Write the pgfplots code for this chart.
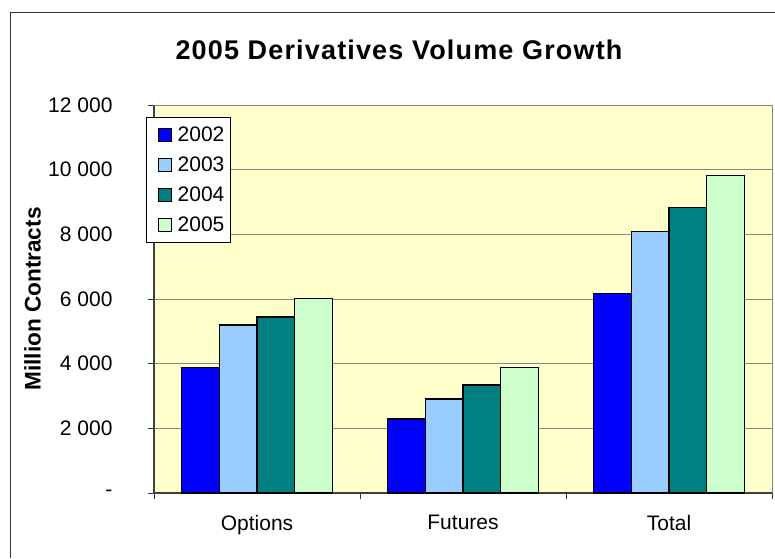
\documentclass[border=0pt]{standalone}
\usepackage{fontspec}
\setmainfont{Liberation Sans}
\newfontfamily\titlefont[LetterSpace=4.3]{Liberation Sans}
\usepackage{pgfplots}
\pgfplotsset{compat=1.18}

\definecolor{c2002}{HTML}{0000FF}
\definecolor{c2003}{HTML}{99CCFF}
\definecolor{c2004}{HTML}{008080}
\definecolor{c2005}{HTML}{CCFFCC}
\definecolor{plotbg}{HTML}{FFFFCC}
\definecolor{gridgray}{HTML}{868686}

% square swatches in the legend, with a little room on their left
\pgfplotsset{sq legend/.style={legend image code/.code={%
  \path (-6.5pt,0pt);
  \draw[##1,line width=1pt] (0pt,-6.5pt) rectangle (13pt,6.5pt);}}}

% million contracts traded
\pgfplotstableread{
cat y2002 y2003 y2004 y2005
0   3890  5200  5440  6010
1   2290  2910  3340  3890
2   6170  8090  8830  9830
}\volumes

\begin{document}
\begin{tikzpicture}[x=1pt,y=1pt]
\useasboundingbox (0,0) rectangle (775,558);
\draw[line width=1.2pt, black!80] (10.5,0) -- (10.5,545.5) -- (775,545.5);
\node[anchor=base, font=\titlefont\bfseries\fontsize{27}{30}\selectfont] at (399,498.7) {2005 Derivatives Volume Growth};
\node[rotate=90, anchor=base, font=\bfseries\fontsize{22.6}{26}\selectfont] at (40.5,259) {Million Contracts};
\begin{axis}[
  at={(154pt,65pt)}, anchor=south west, scale only axis,
  width=618pt, height=388pt,
  ybar=0pt, bar width=37.6pt,
  xmin=-0.5, xmax=2.5, ymin=0, ymax=12000,
  scaled y ticks=false,
  axis lines*=left,
  axis line style={-, black!75, line width=1.3pt},
  axis background/.style={fill=plotbg},
  xtick={-0.5,0.5,1.5,2.5},
  x tick label as interval,
  xticklabels={Options,Futures,Total},
  ytick={0,2000,4000,6000,8000,10000,12000},
  yticklabels={-\hspace{24pt},2 000,4 000,6 000,8 000,10 000,12 000},
  tick align=outside, major tick length=6pt,
  tick style={black!80, line width=1pt},
  ymajorgrids, grid style={gridgray, line width=1pt},
  tick label style={font=\fontsize{21}{25}\selectfont},
  yticklabel style={xshift=-32pt},
  xticklabel style={yshift=-13pt},
  legend style={at={(rel axis cs:0,1)}, anchor=north west,
    xshift=-8pt, yshift=-12.3pt, draw=black, line width=1pt, fill=white,
    font=\fontsize{21}{25}\selectfont, inner xsep=4.5pt, inner ysep=7.5pt,
    row sep=9.8pt,
    /tikz/every odd column/.append style={column sep=4pt}},
  legend cell align=left,
  after end axis/.code={\draw[gridgray, line width=1pt]
    (rel axis cs:0,1) -- (rel axis cs:1,1) -- (rel axis cs:1,0);},
]
\addplot[fill=c2002, draw=black, line width=1.3pt, sq legend] table[x=cat,y=y2002]{\volumes};
\addplot[fill=c2003, draw=black, line width=1.3pt, sq legend] table[x=cat,y=y2003]{\volumes};
\addplot[fill=c2004, draw=black, line width=1.3pt, sq legend] table[x=cat,y=y2004]{\volumes};
\addplot[fill=c2005, draw=black, line width=1.3pt, sq legend] table[x=cat,y=y2005]{\volumes};
\legend{2002,2003,2004,2005}
\end{axis}
\end{tikzpicture}
\end{document}
